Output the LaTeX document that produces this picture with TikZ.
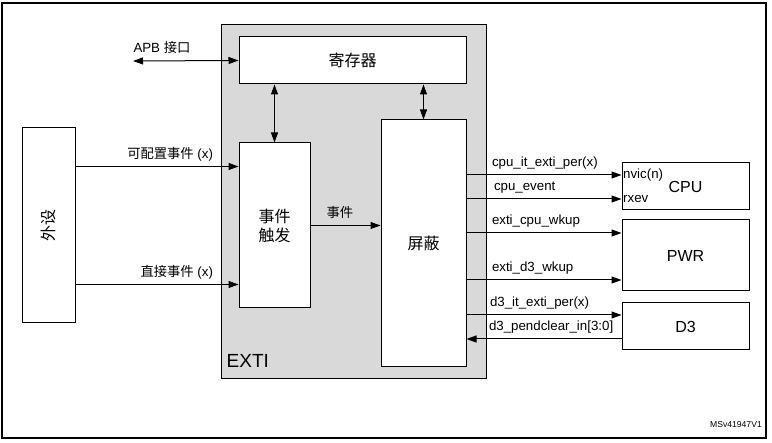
\documentclass[tikz,border=0pt]{standalone}
\usepackage{fontspec}
\setmainfont{Liberation Sans}
\newfontfamily\cjk{Noto Sans CJK SC}
\usetikzlibrary{arrows.meta}
\definecolor{extigris}{RGB}{217,217,217}

\begin{document}
\begin{tikzpicture}[x=1pt,y=-1pt,
bloco/.style={rectangle,draw,line width=1pt,fill=white,
inner sep=0pt,
font=\fontsize{16}{19}\selectfont},
sinal/.style={line width=1pt,-{Triangle[length=10pt,width=7pt]}},
duplo/.style={line width=1pt,
{Triangle[length=10pt,width=7pt]}-{Triangle[length=10pt,width=7pt]}},
rotulo/.style={inner sep=0pt,font=\fontsize{13.3}{15}\selectfont}
]
\useasboundingbox (0,0) rectangle (772,443);

% moldura
\draw[line width=1.5pt] (2,3) rectangle (766,438);

% blocos
\node[rectangle,draw,line width=1pt,fill=extigris,
minimum width=265pt,minimum height=354pt] (exti) at (353.5,202) {};
\node[rotulo,anchor=base west,font=\fontsize{19}{22}\selectfont]
(extilab) at ([xshift=6pt,yshift=12pt]exti.south west) {EXTI};
\node[bloco,font=\fontsize{16}{19}\selectfont\cjk,
minimum width=227pt,minimum height=47pt] (reg) at (352.5,60.5) {寄存器};
\node[bloco,rotate=90,font=\fontsize{16}{19}\selectfont\cjk,
minimum width=195pt,minimum height=53pt] (periph) at (48.5,225.5) {外设};
\node[bloco,align=center,font=\fontsize{16}{19}\selectfont\cjk,
minimum width=71pt,minimum height=165pt] (trig) at (274.5,225.5) {事件\\触发};
\node[bloco,font=\fontsize{16}{19}\selectfont\cjk,
minimum width=85pt,minimum height=247pt] (mask) at (423.5,243.5) {屏蔽};
\node[bloco,minimum width=127pt,minimum height=47pt] (cpu) at (685.5,186.5) {CPU};
\node[bloco,minimum width=127pt,minimum height=71pt] (pwr) at (685.5,255.5) {PWR};
\node[bloco,minimum width=127pt,minimum height=47pt] (d3) at (685.5,326.5) {D3};

% ligacoes internas
\coordinate (apb) at (133,61);
\draw[duplo] (apb) -- (reg.west)
node[rotulo,pos=0,anchor=base west,yshift=8pt] (apblab) {APB {\cjk 接口}};
\draw[duplo] (reg.south -| trig) -- (trig.north);
\draw[duplo] (reg.south -| mask) -- (mask.north);
\draw[sinal] ([yshift=59pt]periph.south) -- ([yshift=59pt]periph.south -| trig.west)
node[rotulo,pos=1,anchor=base east,xshift=-25pt,yshift=8pt] (cfglab) {{\cjk 可配置事件} (x)};
\draw[sinal] ([yshift=-59pt]periph.south) -- ([yshift=-59pt]periph.south -| trig.west)
node[rotulo,pos=1,anchor=base east,xshift=-25pt,yshift=8pt] (dirlab) {{\cjk 直接事件} (x)};
\draw[sinal] (trig.east) -- (trig.east -| mask.west)
node[rotulo,pos=0.42,anchor=base,yshift=8pt] (evlab) {\cjk 事件};

% saidas
\coordinate (o1) at ([yshift=11.5pt]cpu.west);
\coordinate (o2) at ([yshift=-12.5pt]cpu.west);
\coordinate (o3) at ([yshift=22.5pt]pwr.west);
\coordinate (o4) at ([yshift=-24.5pt]pwr.west);
\coordinate (o5) at ([yshift=11.5pt]d3.west);
\coordinate (o6) at ([yshift=-12.5pt]d3.west);
\draw[sinal] (mask.east |- o1) -- (o1)
node[rotulo,pos=0,anchor=base west,xshift=25pt,yshift=8pt] (s1) {cpu\_it\_exti\_per(x)};
\draw[sinal] (mask.east |- o2) -- (o2)
node[rotulo,pos=0,anchor=base west,xshift=27pt,yshift=8pt] (s2) {cpu\_event};
\draw[sinal] (mask.east |- o3) -- (o3)
node[rotulo,pos=0,anchor=base west,xshift=25pt,yshift=8pt] (s3) {exti\_cpu\_wkup};
\draw[sinal] (mask.east |- o4) -- (o4)
node[rotulo,pos=0,anchor=base west,xshift=25pt,yshift=8pt] (s4) {exti\_d3\_wkup};
\draw[sinal] (mask.east |- o5) -- (o5)
node[rotulo,pos=0,anchor=base west,xshift=23pt,yshift=8pt] (s5) {d3\_it\_exti\_per(x)};
\draw[sinal] (o6) -- (mask.east |- o6)
node[rotulo,pos=1,anchor=base west,xshift=22pt,yshift=8pt] (s6) {d3\_pendclear\_in[3:0]};
\node[rotulo,anchor=west,xshift=1.5pt] (nvic) at (o1) {nvic(n)};
\node[rotulo,anchor=west,xshift=1.5pt] (rxev) at (o2) {rxev};

\node[rotulo,anchor=base east,font=\fontsize{8.6}{10}\selectfont] (ref) at (762,428) {MSv41947V1};

\end{tikzpicture}
\end{document}
